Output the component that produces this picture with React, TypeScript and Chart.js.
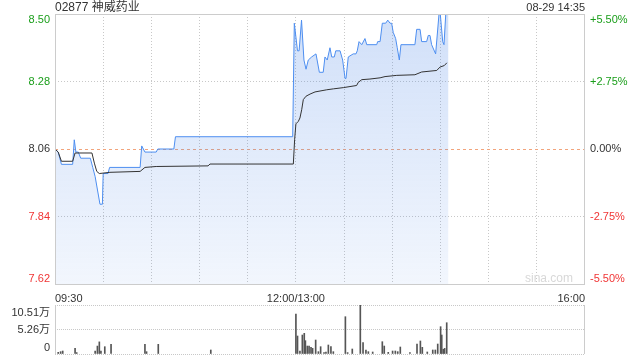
import React, { useEffect, useRef } from 'react';
import { Chart, registerables } from 'chart.js';

Chart.register(...registerables);

// ---------- data ----------
const TITLE = '02877 神威药业';
const TIMESTAMP = '08-29 14:35';
const PREV_CLOSE = 8.06;
const PRICE_MIN = 7.62;
const PRICE_MAX = 8.5;
const PRICE_TICKS = [7.62, 7.84, 8.06, 8.28, 8.5];
const PCT_TICKS = [-5.5, -2.75, 0, 2.75, 5.5];
const GRID_MINUTES = [0, 30, 60, 90, 120, 150, 180, 210, 240, 270, 300, 330];
const TIME_LABEL_MINUTES = [0, 150, 330];
const TIME_LABELS = ['09:30', '12:00/13:00', '16:00'];
const VOL_TICKS = [0, 5.26, 10.51];
const VOL_LABELS = ['0', '5.26万', '10.51万'];

// minutes since 09:30 (lunch break removed), price
const priceMinutes = [
  0, 2, 4, 11, 12, 13, 14.5, 16, 22, 23.5, 25, 27, 28, 29.5, 30, 33, 34, 53, 54, 56,
  63, 64, 74, 75, 148, 149, 151, 152, 153.5, 155, 156.3, 157.7, 159.8, 162.5, 164.6, 167,
  168.1, 169.5, 171.2, 172.3, 173.9, 174.8, 177.5, 179.1, 180.6, 181.2, 182.6, 185.7, 187.4,
  188.2, 189.3, 191, 193, 194.1, 200.3, 200.9, 202.4, 203.8, 205.9, 207.2, 208.6, 209.6,
  210.6, 212.1, 213.1, 214.4, 215.4, 224.1, 225.2, 227.3, 228.3, 231.4, 232.4, 233.5, 234.5,
  237, 239.1, 239.9, 241.4, 242.2, 243.3, 245,
];
const priceValues = [
  8.06, 8.05, 8.01, 8.01, 8.09, 8.05, 8.05, 8.03, 8.03, 8.0, 7.97, 7.91, 7.88, 7.88, 7.98, 7.98, 8.0, 8.0, 8.07, 8.05,
  8.05, 8.06, 8.06, 8.1, 8.1, 8.47, 8.38, 8.38, 8.48, 8.35, 8.32, 8.35, 8.36, 8.37, 8.31, 8.31,
  8.36, 8.35, 8.39, 8.36, 8.36, 8.38, 8.38, 8.35, 8.29, 8.29, 8.36, 8.37, 8.37,
  8.38, 8.41, 8.4, 8.42, 8.4, 8.4, 8.41, 8.41, 8.47, 8.47, 8.48, 8.47, 8.47,
  8.44, 8.42, 8.39, 8.35, 8.4, 8.4, 8.45, 8.45, 8.41, 8.41, 8.43, 8.43, 8.4,
  8.37, 8.5, 8.5, 8.41, 8.4, 8.5, 8.5,
];

const avgMinutes = [
  0, 2, 4, 11, 12.5, 23, 24.5, 26, 27.6, 34.2, 53, 56, 63, 95.3, 96.5, 148.4, 149.2, 150,
  151.5, 152.5, 153.6, 154.6, 156.3, 158.8, 161.9, 169.2, 173.3, 179.5, 187.8, 188.8, 191,
  196.1, 202.4, 205.5, 212.8, 224.1, 228.3, 237.7, 239.7, 242.4, 244,
];
const avgValues = [
  8.06, 8.05, 8.02, 8.02, 8.047, 8.047, 8.014, 7.987, 7.98, 7.984, 7.987, 8.0, 8.003, 8.005, 8.011, 8.011, 8.09, 8.142,
  8.15, 8.161, 8.188, 8.221, 8.232, 8.239, 8.246, 8.253, 8.256, 8.26, 8.267, 8.277, 8.286,
  8.288, 8.292, 8.296, 8.3, 8.302, 8.311, 8.316, 8.327, 8.332, 8.341,
];

// volume in 万 shares
const volMinutes = [
  2, 3.5, 4.8, 12.5, 13.5, 25, 26.4, 27.6, 28.6, 31, 34.9, 56, 57, 64.3, 97,
  150, 151, 152.5, 154, 155.2, 155.9, 157.1, 158.2, 159.4, 160.4, 162.3, 164, 165.4, 167.5,
  168.7, 170.2, 171.8, 173.3, 180.8, 182.2, 185.1, 190.1, 191.8, 193.6, 195.1, 197.8, 203.8,
  205, 207.5, 210.2, 211.9, 213.4, 215, 221, 225.4, 227.5, 228.7, 231.8, 235.2, 236.8, 238.3,
  240.1, 240.8, 241.8, 242.6, 243.9,
];
const volValues = [
  0.36, 0.5, 0.64, 1.2, 0.3, 0.64, 1.7, 2.6, 0.6, 1.57, 2.07, 2.07, 0.5, 2.07, 0.86,
  8.57, 3.86, 0.64, 4.07, 4.43, 2.86, 1.71, 1.71, 1.43, 1.21, 3.0, 0.5, 1.57, 0.3,
  0.43, 1.93, 1.57, 0.5, 8.0, 0.3, 1.07, 10.5, 2.43, 0.86, 0.5, 0.43, 2.64,
  1.71, 0.36, 0.64, 0.64, 0.5, 1.5, 0.3, 2.14, 2.79, 1.43, 0.43, 0.86, 0.86, 2.14,
  5.86, 4.07, 1.0, 1.21, 6.71,
];

// ---------- styling ----------
const FONT = '"Liberation Sans", Arial, "Noto Sans CJK SC", sans-serif';
const GREEN = '#1a9e1a';
const RED = '#f03535';
const DARK = '#333333';
const FRAME = '#cccccc';

function clamp(v: number, lo: number, hi: number) {
  return Math.max(lo, Math.min(hi, v));
}

const mainDecor = {
  id: 'mainDecor',
  beforeDatasetsDraw(chart: any) {
    const { ctx, chartArea: a, scales } = chart;
    const py = Math.round(scales.y.getPixelForValue(PREV_CLOSE)) + 0.5;
    ctx.save();
    ctx.strokeStyle = '#f2a47c';
    ctx.lineWidth = 1;
    ctx.setLineDash([3, 3]);
    ctx.beginPath();
    ctx.moveTo(a.left, py);
    ctx.lineTo(a.right, py);
    ctx.stroke();
    ctx.setLineDash([]);
    ctx.font = '12px ' + FONT;
    ctx.fillStyle = '#d8d8d8';
    ctx.textAlign = 'right';
    ctx.textBaseline = 'middle';
    ctx.fillText('sina.com', a.right - 12, a.bottom - 5);
    ctx.restore();
  },
  afterDraw(chart: any) {
    const { ctx, chartArea: a, scales } = chart;
    ctx.save();
    ctx.strokeStyle = FRAME;
    ctx.lineWidth = 1;
    ctx.strokeRect(Math.round(a.left) + 0.5, Math.round(a.top) + 0.5, Math.round(a.right - a.left) - 1, Math.round(a.bottom - a.top));
    ctx.font = '11px ' + FONT;
    ctx.textBaseline = 'middle';
    PRICE_TICKS.forEach((v, i) => {
      const y = clamp(scales.y.getPixelForValue(v), a.top + 5.5, a.bottom - 5);
      const col = v > PREV_CLOSE + 1e-9 ? GREEN : v < PREV_CLOSE - 1e-9 ? RED : DARK;
      ctx.fillStyle = col;
      ctx.textAlign = 'right';
      ctx.fillText(v.toFixed(2), a.left - 5, y);
      const p = PCT_TICKS[i];
      ctx.textAlign = 'left';
      ctx.fillText((p > 0 ? '+' : '') + p.toFixed(2) + '%', a.right + 5, y);
    });
    ctx.fillStyle = DARK;
    ctx.font = '12px ' + FONT;
    ctx.textAlign = 'left';
    ctx.fillText(TITLE, a.left, 8);
    ctx.font = '11px ' + FONT;
    ctx.textAlign = 'right';
    ctx.fillText(TIMESTAMP, a.right, 8);
    ctx.restore();
  },
};

const volDecor = {
  id: 'volDecor',
  afterDraw(chart: any) {
    const { ctx, chartArea: a, scales } = chart;
    ctx.save();
    ctx.strokeStyle = FRAME;
    ctx.lineWidth = 1;
    ctx.beginPath();
    const l = Math.round(a.left) + 0.5;
    const r = Math.round(a.right) - 0.5;
    ctx.moveTo(l, a.top);
    ctx.lineTo(l, a.bottom);
    ctx.moveTo(r, a.top);
    ctx.lineTo(r, a.bottom);
    ctx.stroke();
    ctx.font = '11px ' + FONT;
    ctx.fillStyle = DARK;
    ctx.textAlign = 'right';
    ctx.textBaseline = 'middle';
    VOL_TICKS.forEach((v, i) => {
      const y = clamp(scales.y.getPixelForValue(v), a.top + 8, a.bottom - 6);
      ctx.fillText(VOL_LABELS[i], a.left - 5, y);
    });
    ctx.restore();
  },
};

export default function App() {
  const mainRef = useRef<HTMLCanvasElement | null>(null);
  const volRef = useRef<HTMLCanvasElement | null>(null);

  useEffect(() => {
    const priceData = priceMinutes.map((m, i) => ({ x: m, y: priceValues[i] }));
    const avgData = avgMinutes.map((m, i) => ({ x: m, y: avgValues[i] }));
    const volData = volMinutes.map((m, i) => ({ x: m, y: volValues[i] }));

    const main = new Chart(mainRef.current as HTMLCanvasElement, {
      type: 'line',
      data: {
        datasets: [
          {
            data: avgData,
            borderColor: '#333333',
            borderWidth: 1,
            pointRadius: 0,
            fill: false,
            order: 0,
          },
          {
            data: priceData,
            borderColor: '#4d8ef0',
            borderWidth: 1,
            pointRadius: 0,
            fill: 'start',
            order: 1,
            backgroundColor: (c: any) => {
              const ch = c.chart;
              const a = ch.chartArea;
              if (!a) return 'rgba(70,130,230,0.15)';
              const g = ch.ctx.createLinearGradient(0, a.top, 0, a.bottom);
              g.addColorStop(0, 'rgba(70,130,230,0.25)');
              g.addColorStop(1, 'rgba(70,130,230,0.07)');
              return g;
            },
          },
        ],
      },
      options: {
        animation: false,
        responsive: false,
        maintainAspectRatio: false,
        layout: { padding: { top: 14, left: 0, right: 0, bottom: 0 } },
        plugins: { legend: { display: false }, tooltip: { enabled: false } },
        elements: { line: { tension: 0 } },
        scales: {
          x: {
            type: 'linear',
            min: 0,
            max: 330,
            offset: false,
            afterBuildTicks: (s: any) => {
              s.ticks = GRID_MINUTES.map((v) => ({ value: v }));
            },
            grid: {
              drawTicks: false,
              offset: false,
              color: (c: any) => (c.tick && (c.tick.value === 0 || c.tick.value === 330) ? 'rgba(0,0,0,0)' : '#c8c8c8'),
            },
            border: { display: false, dash: [1, 2] },
            ticks: {
              autoSkip: false,
              maxRotation: 0,
              align: 'inner',
              padding: 8,
              color: DARK,
              font: { size: 11, family: FONT },
              callback: (v: any) => {
                const i = TIME_LABEL_MINUTES.indexOf(Number(v));
                return i >= 0 ? TIME_LABELS[i] : '';
              },
            },
            afterFit: (s: any) => {
              s.height = 26;
            },
          },
          y: {
            type: 'linear',
            position: 'left',
            min: PRICE_MIN,
            max: PRICE_MAX,
            afterBuildTicks: (s: any) => {
              s.ticks = PRICE_TICKS.map((v) => ({ value: v }));
            },
            grid: {
              drawTicks: false,
              color: (c: any) => {
                const v = c.tick ? c.tick.value : 0;
                return Math.abs(v - 8.28) < 1e-6 || Math.abs(v - 7.84) < 1e-6 ? '#c8c8c8' : 'rgba(0,0,0,0)';
              },
            },
            border: { display: false, dash: [1, 2] },
            ticks: { display: false },
            afterFit: (s: any) => {
              s.width = 55;
            },
          },
          yr: {
            type: 'linear',
            position: 'right',
            min: -5.5,
            max: 5.5,
            grid: { display: false },
            border: { display: false },
            ticks: { display: false },
            afterFit: (s: any) => {
              s.width = 55;
            },
          },
        },
      } as any,
      plugins: [mainDecor],
    });

    const vol = new Chart(volRef.current as HTMLCanvasElement, {
      type: 'bar',
      data: {
        datasets: [
          {
            data: volData,
            backgroundColor: '#555555',
            borderWidth: 0,
            barThickness: 1,
          },
        ],
      },
      options: {
        animation: false,
        responsive: false,
        maintainAspectRatio: false,
        layout: { padding: { top: 10, left: 0, right: 0, bottom: 0 } },
        plugins: { legend: { display: false }, tooltip: { enabled: false } },
        scales: {
          x: {
            type: 'linear',
            min: 0,
            max: 330,
            offset: false,
            grid: { display: false, offset: false },
            border: { display: false },
            ticks: { display: false },
            afterFit: (s: any) => {
              s.height = 6;
            },
          },
          y: {
            type: 'linear',
            position: 'left',
            min: 0,
            max: 10.51,
            afterBuildTicks: (s: any) => {
              s.ticks = VOL_TICKS.map((v) => ({ value: v }));
            },
            grid: { drawTicks: false, color: '#c8c8c8' },
            border: { display: false, dash: [1, 1] },
            ticks: { display: false },
            afterFit: (s: any) => {
              s.width = 55;
            },
          },
          yr: {
            type: 'linear',
            position: 'right',
            min: 0,
            max: 1,
            grid: { display: false },
            border: { display: false },
            ticks: { display: false },
            afterFit: (s: any) => {
              s.width = 55;
            },
          },
        },
      } as any,
      plugins: [volDecor],
    });

    return () => {
      main.destroy();
      vol.destroy();
    };
  }, []);

  return (
    <div style={{ position: 'absolute', left: 0, top: 0, width: 640, height: 360, background: '#ffffff' }}>
      <canvas
        ref={mainRef}
        width={640}
        height={310}
        style={{ position: 'absolute', left: 0, top: 0, width: 640, height: 310 }}
      />
      <canvas
        ref={volRef}
        width={640}
        height={65}
        style={{ position: 'absolute', left: 0, top: 295, width: 640, height: 65 }}
      />
    </div>
  );
}
